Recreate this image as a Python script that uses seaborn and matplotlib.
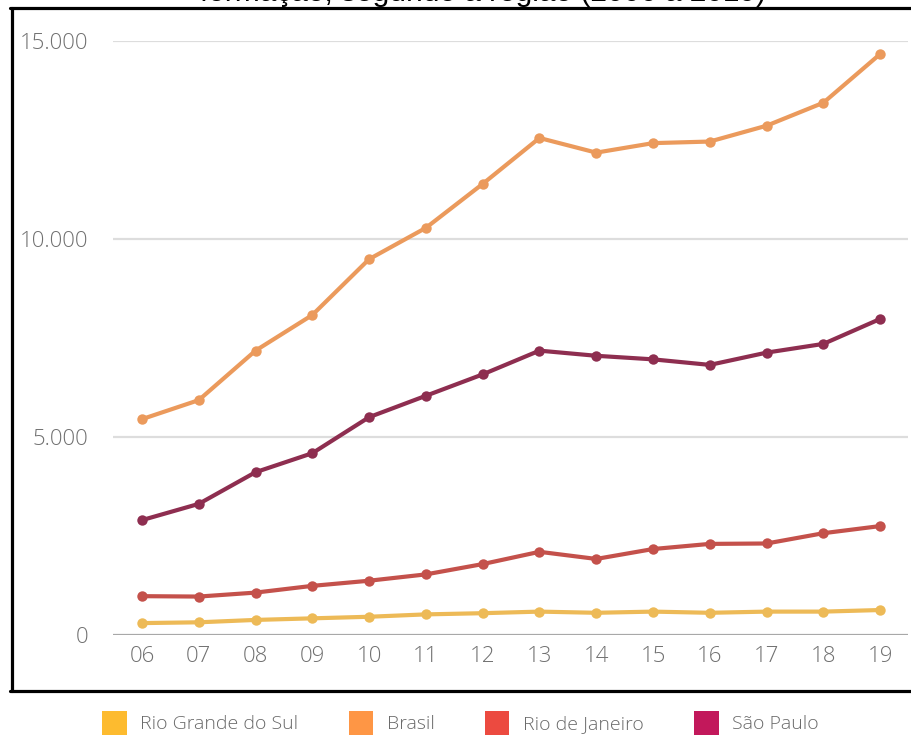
import numpy as np
import pandas as pd
import matplotlib
matplotlib.use("Agg")
import matplotlib.pyplot as plt
from matplotlib.lines import Line2D
from matplotlib.patches import Patch
import seaborn as sns

# data (2006-2019)
years = list(range(2006, 2020))
year_labels = [f"{y % 100:02d}" for y in years]

brasil = [5450, 5930, 7180, 8080, 9490, 10280, 11390,
          12550, 12180, 12420, 12460, 12860, 13440, 14670]
sao_paulo = [2900, 3310, 4110, 4590, 5500, 6040, 6580,
             7180, 7050, 6960, 6820, 7130, 7350, 7980]
rio_janeiro = [980, 970, 1070, 1240, 1370, 1530, 1790,
               2100, 1920, 2170, 2300, 2310, 2570, 2750]
rio_grande_sul = [300, 320, 380, 420, 460, 520, 550,
                  590, 560, 590, 560, 590, 590, 630]

regions = ["Rio Grande do Sul", "Brasil", "Rio de Janeiro", "São Paulo"]
series = [rio_grande_sul, brasil, rio_janeiro, sao_paulo]
yticks = [0, 5000, 10000, 15000]
ytick_labels = ["0", "5.000", "10.000", "15.000"]

LINE_COLORS = {
    "Rio Grande do Sul": "#EDBA57",
    "Brasil": "#EB9A5C",
    "Rio de Janeiro": "#C4514B",
    "São Paulo": "#8E2E50",
}
LEGEND_COLORS = {
    "Rio Grande do Sul": "#FDBB2F",
    "Brasil": "#FE9645",
    "Rio de Janeiro": "#EC4A40",
    "São Paulo": "#C2185B",
}

df = pd.DataFrame({
    "ano": years * len(regions),
    "valor": [v for s in series for v in s],
    "regiao": [r for r in regions for _ in years],
})

sns.set_theme(style="white")
plt.rcParams["font.family"] = ["Open Sans", "DejaVu Sans"]

fig = plt.figure(figsize=(9.12, 7.38), dpi=100)
fig.patch.set_facecolor("white")
ax = fig.add_axes([0.1239, 0.1396, 0.8717, 0.8049])

# grid first so the lines sit on top
for yv in yticks[1:]:
    ax.axhline(yv, color="#DDDDDD", linewidth=1.6, zorder=0)
ax.axhline(0, color="#A8A8A8", linewidth=1.6, zorder=0)

sns.lineplot(data=df, x="ano", y="valor", hue="regiao", hue_order=regions,
             palette=LINE_COLORS, marker="o", markersize=7.5,
             markeredgewidth=0, linewidth=3.0, legend=False, ax=ax,
             clip_on=False)

ax.set_xlim(years[0] - 0.51, years[-1] + 0.49)
ax.set_ylim(0, 15000)
ax.set_xticks(years)
ax.set_xticklabels(year_labels)
ax.set_yticks(yticks)
ax.set_yticklabels(ytick_labels)
ax.tick_params(axis="both", length=0, labelsize=16, colors="#707070")
for lbl in ax.get_xticklabels() + ax.get_yticklabels():
    lbl.set_fontweight("light")
ax.tick_params(axis="x", pad=8)
ax.tick_params(axis="y", pad=18)
ax.set_xlabel("")
ax.set_ylabel("")
for spine in ax.spines.values():
    spine.set_visible(False)

# legend below the frame
handles = [Patch(facecolor=LEGEND_COLORS[r], edgecolor="none", label=r)
           for r in regions]
leg = fig.legend(handles=handles, loc="lower center", ncol=4,
                 bbox_to_anchor=(0.505, -0.02), frameon=False,
                 handlelength=1.25, handleheight=1.55, handletextpad=0.7,
                 columnspacing=2.6, fontsize=14)
plt.setp(leg.get_texts(), color="#6A6A6A")
for t in leg.get_texts():
    t.set_fontweight("light")

# black frame around the chart (left, top, bottom)
H, W = 738.0, 912.0
lw = 2.3
fig.add_artist(Line2D([12 / W, 12 / W], [1 - 8 / H, 1 - 691 / H],
                      color="black", linewidth=lw, transform=fig.transFigure))
fig.add_artist(Line2D([10 / W, 1.0], [1 - 8 / H, 1 - 8 / H],
                      color="black", linewidth=lw, transform=fig.transFigure))
fig.add_artist(Line2D([10 / W, 1.0], [1 - 691 / H, 1 - 691 / H],
                      color="black", linewidth=lw, transform=fig.transFigure))

# title, cut off by the top edge of the image
fig.text(483 / W, 1 - 1 / H, "formação, segundo a região (2006 a 2019)",
         ha="center", va="baseline", fontsize=21.5, color="black",
         family=["Liberation Sans", "DejaVu Sans"])

fig.savefig("out.png", dpi=100, facecolor="white")
plt.close(fig)
